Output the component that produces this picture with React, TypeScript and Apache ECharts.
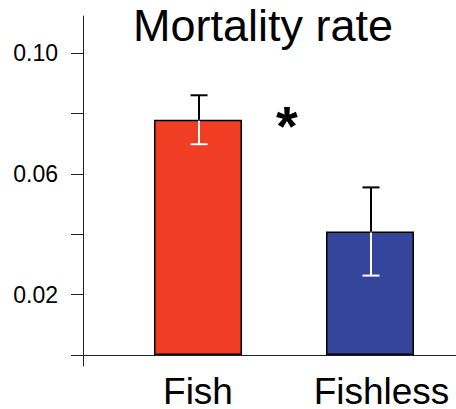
import React, { useEffect, useRef } from "react";
import * as echarts from "echarts";

const categories = ["Fish", "Fishless"];
const means = [0.0779, 0.0409];
const errors = [0.0081, 0.0146];
const barColors = ["#EF3E24", "#34459A"];
const tickValues = [0, 0.02, 0.04, 0.06, 0.08, 0.1];
const labelValues = [0.02, 0.06, 0.1];
const titleText = "Mortality rate";
const significance = "*";

const FONT = "'Liberation Sans', Arial, Helvetica, sans-serif";

export default function App() {
  const ref = useRef<HTMLDivElement>(null);
  useEffect(() => {
    if (!ref.current) return;
    const chart = echarts.init(ref.current, null, { renderer: "svg" });
    const errData = means.map((m, i) => [i, m, errors[i]]);
    chart.setOption({
      animation: false,
      backgroundColor: "#fff",
      title: {
        text: titleText,
        left: 133,
        top: 3,
        padding: 0,
        textStyle: { fontFamily: FONT, fontSize: 45, fontWeight: "normal", color: "#000" },
      },
      grid: { left: 112, right: 0, top: 16, bottom: 43, containLabel: false, outerBoundsMode: "none" },
      xAxis: {
        type: "category",
        data: categories.map((c, i) =>
          i === 1 ? { value: c, textStyle: { padding: [0, 0, 0, 23] } } : { value: c }
        ),
        axisLine: { onZero: true, lineStyle: { color: "#222", width: 1 } },
        axisTick: { show: false },
        axisLabel: {
          interval: 0,
          hideOverlap: false,
          fontFamily: FONT,
          fontSize: 37,
          lineHeight: 30,
          color: "#000",
          margin: 10.5,
        },
        splitLine: { show: false },
      },
      yAxis: {
        type: "value",
        min: -0.00364,
        max: 0.11225,
        offset: 29,
        splitLine: { show: false },
        axisLine: { show: true, lineStyle: { color: "#222", width: 1 } },
        axisTick: { show: true, length: 12, customValues: tickValues, lineStyle: { color: "#222", width: 1 } },
        axisLabel: {
          customValues: labelValues,
          fontFamily: FONT,
          fontSize: 23,
          color: "#000",
          margin: 25,
          formatter: (v: number) => v.toFixed(2),
        },
      },
      graphic: [
        { type: "line", shape: { x1: 83, y1: 355.5, x2: 113, y2: 355.5 }, style: { stroke: "#222", lineWidth: 1 }, z: 10 },
        {
          type: "text",
          x: 287,
          y: 125,
          style: {
            text: significance,
            font: `bold 56px ${FONT}`,
            fill: "#000",
            align: "center",
            verticalAlign: "middle",
          },
          z: 10,
        },
      ],
      series: [
        {
          type: "bar",
          data: means.map((v, i) => ({ value: v, itemStyle: { color: barColors[i] } })),
          barWidth: 88,
          itemStyle: { borderColor: "#000", borderWidth: 1.5 },
          z: 2,
        },
        {
          type: "custom",
          data: errData,
          z: 5,
          renderItem: (params: any, api: any) => {
            const i = api.value(0);
            const m = api.value(1);
            const e = api.value(2);
            const top = api.coord([i, m + e]);
            const mid = api.coord([i, m]);
            const low = api.coord([i, m - e]);
            const x = top[0] + 1;
            const hw = 8.5;
            return {
              type: "group",
              children: [
                { type: "line", shape: { x1: x, y1: top[1], x2: x, y2: mid[1] }, style: { stroke: "#000", lineWidth: 2 } },
                { type: "line", shape: { x1: x - hw, y1: top[1], x2: x + hw, y2: top[1] }, style: { stroke: "#000", lineWidth: 2 } },
                { type: "line", shape: { x1: x, y1: mid[1] + 1, x2: x, y2: low[1] }, style: { stroke: "#fff", lineWidth: 2 } },
                { type: "line", shape: { x1: x - hw, y1: low[1], x2: x + hw, y2: low[1] }, style: { stroke: "#fff", lineWidth: 2 } },
              ],
            };
          },
        },
      ],
    });
    return () => chart.dispose();
  }, []);
  return <div ref={ref} style={{ width: 456, height: 409, position: "absolute", left: 0, top: 0 }} />;
}
